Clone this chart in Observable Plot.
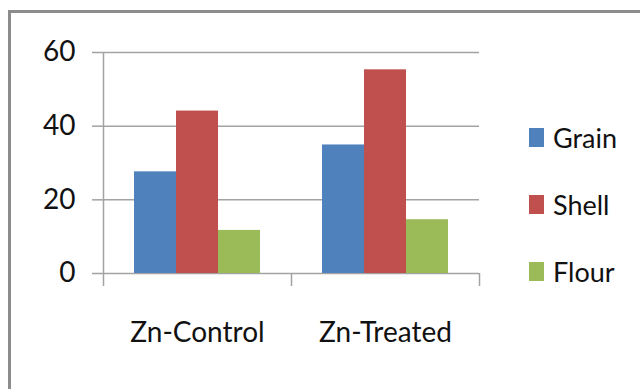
<!DOCTYPE html>
<html>
<head>
<meta charset="utf-8">
<script src="https://cdn.jsdelivr.net/npm/d3@7"></script>
<script src="https://cdn.jsdelivr.net/npm/@observablehq/plot@0.6"></script>
<style>
  html, body { margin: 0; padding: 0; background: #fff; }
  #wrap { position: relative; width: 640px; height: 389px; overflow: hidden; background: #fff; font-family: Lato, "Liberation Sans", sans-serif; }
  #border { position: absolute; left: 8px; top: 10px; width: 800px; height: 600px; border-top: 3px solid #8c8c8c; border-left: 3px solid #8c8c8c; box-sizing: border-box; }
  #chart { position: absolute; left: 0; top: 0; }
  #legend { position: absolute; left: 529px; top: 0; }
  .item { position: absolute; left: 0; display: flex; align-items: center; white-space: nowrap; }
  .sw { width: 15px; height: 19px; margin-right: 9px; }
  .lab { font-size: 27px; color: #111; line-height: 1; }
</style>
</head>
<body>
<div id="wrap">
  <div id="border"></div>
  <div id="chart"></div>
  <div id="legend"></div>
</div>
<script>
const categories = ["Zn-Control", "Zn-Treated"];
const series = ["Grain", "Shell", "Flour"];
const grain = [27.6, 34.9];
const shell = [44.1, 55.3];
const flour = [11.7, 14.6];
const yTicks = [0, 20, 40, 60];
const colors = ["#4F81BD", "#C0504D", "#9BBB59"];

const values = [grain, shell, flour];
const rows = [];
categories.forEach((c, i) => {
  series.forEach((s, j) => {
    rows.push({category: c, series: s, value: values[j][i], i, j});
  });
});

// layout inside each category group (fractions of the group width)
const pad = 0.165;
const w = (1 - 2 * pad) / series.length;
const boundaries = d3.range(categories.length + 1);
const centers = categories.map((c, i) => i + 0.5);
const gridColor = "#a3a3a3";

const chart = Plot.plot({
  width: 640,
  height: 389,
  marginLeft: 103,
  marginRight: 161,
  marginTop: 52,
  marginBottom: 116,
  style: {fontFamily: "Lato, 'Liberation Sans', sans-serif", color: "#111", background: "transparent"},
  x: {domain: [0, categories.length], axis: null},
  y: {domain: [0, 60], axis: null},
  color: {domain: series, range: colors},
  marks: [
    Plot.ruleY(yTicks, {x1: 0, x2: categories.length, stroke: gridColor, strokeWidth: 1.5}),
    Plot.rectY(rows, {
      x1: d => d.i + pad + d.j * w,
      x2: d => d.i + pad + (d.j + 1) * w,
      y1: 0,
      y2: "value",
      fill: "series"
    }),
    Plot.ruleX([0], {y1: 0, y2: 60, stroke: gridColor, strokeWidth: 1.5}),
    Plot.axisY(yTicks, {label: null, tickSize: 11, tickPadding: 17, fontSize: 28, stroke: gridColor, strokeWidth: 1.5, tickFormat: d => String(d)}),
    Plot.axisX(boundaries, {label: null, tickSize: 13, tickFormat: () => "", stroke: gridColor, strokeWidth: 1.5}),
    Plot.axisX(centers, {label: null, tickSize: 0, tickPadding: 49, fontSize: 28, tickFormat: d => categories[Math.floor(d)]})
  ]
});
document.getElementById("chart").appendChild(chart);

const legend = document.getElementById("legend");
const legendTops = [137, 204, 271];
series.forEach((s, j) => {
  const item = document.createElement("div");
  item.className = "item";
  item.style.top = (legendTops[j] - 16) + "px";
  item.style.height = "32px";
  const sw = document.createElement("div");
  sw.className = "sw";
  sw.style.background = colors[j];
  const lab = document.createElement("span");
  lab.className = "lab";
  lab.textContent = s;
  item.appendChild(sw);
  item.appendChild(lab);
  legend.appendChild(item);
});
</script>
</body>
</html>
